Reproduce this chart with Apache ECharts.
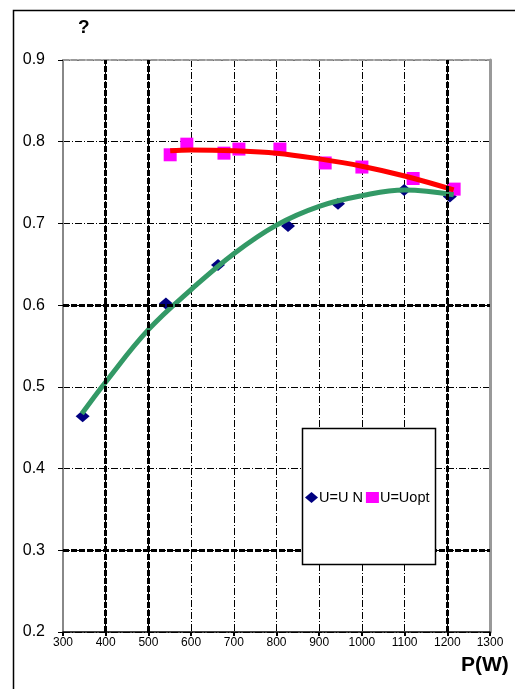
<!DOCTYPE html>
<html>
<head>
<meta charset="utf-8">
<script src="https://cdn.jsdelivr.net/npm/echarts@6/dist/echarts.min.js"></script>
<style>
html,body{margin:0;padding:0;background:#fff;}
#c{width:515px;height:689px;}
</style>
</head>
<body>
<div id="c"></div>
<script>
// Measured points, U = U N (navy diamonds)
const unP = [346, 541, 663, 827, 944, 1099, 1206];
const unEta = [0.464, 0.602, 0.649, 0.697, 0.724, 0.741, 0.733];
// Measured points, U = Uopt (magenta squares)
const optP = [551, 590, 677, 712, 808, 914, 1000, 1120, 1216];
const optEta = [0.784, 0.797, 0.786, 0.791, 0.791, 0.774, 0.769, 0.755, 0.742];
// Trend line (green, U = U N)
const unFitP = [344, 400, 500, 600, 700, 800, 900, 1000, 1100, 1215];
const unFitEta = [0.467, 0.506, 0.570, 0.619, 0.663, 0.698, 0.721, 0.734, 0.741, 0.735];
// Trend line (red, U = Uopt)
const optFitP = [551, 600, 700, 800, 900, 1000, 1100, 1215];
const optFitEta = [0.789, 0.790, 0.789, 0.786, 0.779, 0.770, 0.758, 0.741];
// Axis
const xTicks = [300, 400, 500, 600, 700, 800, 900, 1000, 1100, 1200, 1300];
const yTicks = [0.2, 0.3, 0.4, 0.5, 0.6, 0.7, 0.8, 0.9];
const thickX = [400, 500, 1200];
const thickY = [0.3, 0.6];
const legendNames = ['U=U N', 'U=Uopt'];

const zip = (a, b) => a.map((v, i) => [v, b[i]]);
const FONT = '"Liberation Sans", Arial, sans-serif';

const chart = echarts.init(document.getElementById('c'), null, {renderer: 'canvas'});
chart.setOption({
  animation: false,
  backgroundColor: '#fff',
  grid: {left: 63, top: 60, right: 25, bottom: 57, containLabel: false},
  xAxis: [{
    type: 'value', min: xTicks[0], max: xTicks[xTicks.length - 1], interval: 100,
    axisLine: {show: true, lineStyle: {color: '#000', width: 1.5}},
    axisTick: {show: true, length: 4, inside: false, lineStyle: {color: '#000', width: 2}},
    axisLabel: {color: '#000', fontSize: 12, fontFamily: FONT, margin: 5,
      formatter: v => String(v)},
    splitLine: {show: true, lineStyle: {color: '#000', width: 1, type: [7, 2, 1, 2]}}
  }, {
    type: 'value', position: 'top', min: xTicks[0], max: xTicks[xTicks.length - 1], interval: 100,
    axisLine: {show: true, onZero: false, lineStyle: {color: '#999', width: 2, type: [6, 2]}},
    axisTick: {show: false}, axisLabel: {show: false}, splitLine: {show: false}
  }],
  yAxis: [{
    type: 'value', min: yTicks[0], max: yTicks[yTicks.length - 1], interval: 0.1,
    axisLine: {show: true, onZero: false, lineStyle: {color: '#888', width: 2}},
    axisTick: {show: true, length: 5, lineStyle: {color: '#000', width: 1}},
    axisLabel: {color: '#000', fontSize: 16, fontFamily: FONT, margin: 18,
      formatter: v => v.toFixed(1)},
    splitLine: {show: true, lineStyle: {color: '#000', width: 1, type: [7, 2, 1, 2]}}
  }, {
    type: 'value', position: 'right', min: yTicks[0], max: yTicks[yTicks.length - 1], interval: 0.1,
    axisLine: {show: true, onZero: false, lineStyle: {color: '#999', width: 3}},
    axisTick: {show: false}, axisLabel: {show: false}, splitLine: {show: false}
  }],
  legend: {
    data: [{name: legendNames[0], icon: 'diamond'}, {name: legendNames[1], icon: 'rect'}],
    left: 305, top: 490, itemWidth: 13, itemHeight: 11, itemGap: 3,
    padding: 0, z: 100, zlevel: 0,
    textStyle: {color: '#000', fontSize: 14.5, fontFamily: FONT, padding: [0, 0, 0, -4]},
    selectedMode: false
  },
  graphic: [
    {type: 'rect', shape: {x: 13.5, y: 10.5, width: 520, height: 700},
     style: {fill: 'none', stroke: '#000', lineWidth: 1.5}, z: 0, silent: true},
    {type: 'rect', shape: {x: 302.5, y: 428.5, width: 133, height: 136},
     style: {fill: '#fff', stroke: '#000', lineWidth: 1.5}, z: 50, silent: true},
    {type: 'text', left: 78, top: 18, style: {text: '?', font: 'bold 19px ' + FONT, fill: '#000'}, z: 60},
    {type: 'text', left: 461, top: 655, style: {text: 'P(W)', font: 'bold 21px ' + FONT, fill: '#000'}, z: 60}
  ],
  series: [
    {
      name: 'grid-thick', type: 'line', data: [], silent: true,
      markLine: {
        silent: true, symbol: 'none', label: {show: false}, animation: false,
        lineStyle: {color: '#000', width: 3, type: [6, 2]},
        data: thickX.map(v => ({xAxis: v})).concat(thickY.map(v => ({yAxis: v})))
      },
      z: 1
    },
    {
      name: legendNames[0], type: 'scatter', data: zip(unP, unEta),
      symbol: 'diamond', symbolSize: [14, 12],
      itemStyle: {color: '#000080', opacity: 1}, z: 3
    },
    {
      name: legendNames[1], type: 'scatter', data: zip(optP, optEta),
      symbol: 'rect', symbolSize: [13, 13],
      itemStyle: {color: '#FF00FF', opacity: 1}, z: 3
    },
    {
      name: 'fitUN', type: 'line', data: zip(unFitP, unFitEta), smooth: 0.4,
      showSymbol: false, symbol: 'none',
      lineStyle: {color: '#339966', width: 5}, z: 4
    },
    {
      name: 'fitOpt', type: 'line', data: zip(optFitP, optFitEta), smooth: 0.4,
      showSymbol: false, symbol: 'none',
      lineStyle: {color: '#FF0000', width: 5}, z: 4
    }
  ]
});
</script>
</body>
</html>
